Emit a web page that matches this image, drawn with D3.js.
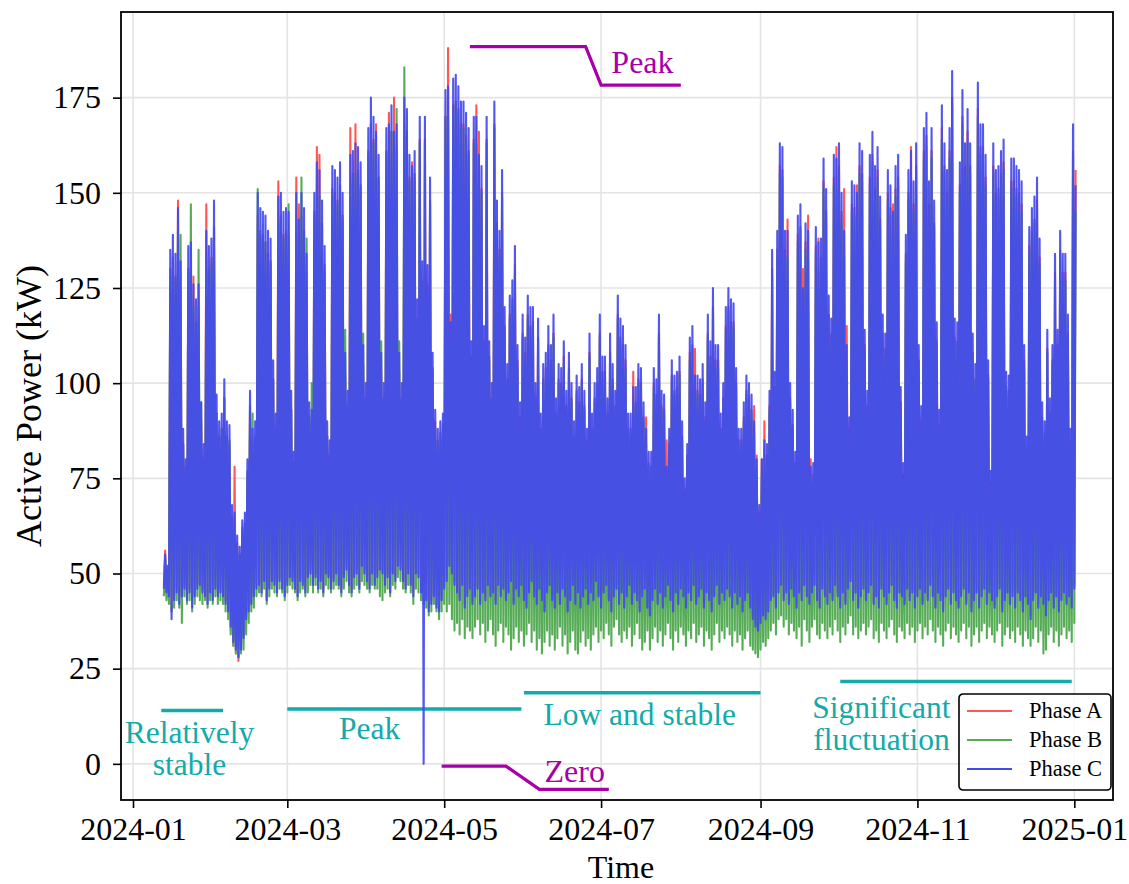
<!DOCTYPE html>
<html>
<head>
<meta charset="utf-8">
<script src="https://cdn.jsdelivr.net/npm/d3@7"></script>
<style>
  body { margin: 0; background: #fff; }
  text { font-family: "Liberation Serif", "Times New Roman", serif; }
</style>
</head>
<body>
<div id="chart"></div>
<script>
// one low (night) and one high (peak) reading per day, first day below
const startDate = "2024-01-13";

const xTickLabels = ["2024-01", "2024-03", "2024-05", "2024-07", "2024-09", "2024-11", "2025-01"];
const yTickValues = [0, 25, 50, 75, 100, 125, 150, 175];

const phaseNames = ["Phase A", "Phase B", "Phase C"];

// Phase A (red)
const phaseAHigh = [
  56,51,130,133,128,148,125,84,78,130,
  131,128,116,120,90,80,147,130,133,140,
  92,86,88,96,86,84,65,78,58,55,
  62,63,76,93,84,86,144,140,139,137,
  134,132,101,88,153,144,139,140,139,93,
  79,154,147,144,140,129,91,89,145,162,
  160,142,131,86,81,151,150,148,152,144,
  103,94,167,155,168,156,152,105,96,161,
  168,164,168,154,103,96,161,171,166,175,
  162,103,96,168,166,154,158,155,117,164,
  127,164,126,148,104,90,85,87,89,170,
  188,118,173,174,172,168,168,165,161,107,
  164,173,166,151,111,164,107,96,168,142,
  135,150,115,101,118,122,131,106,91,113,
  108,118,115,116,96,112,88,101,104,110,
  106,113,92,101,100,107,94,104,96,86,
  98,95,101,94,85,108,88,96,100,113,
  103,103,92,108,101,94,118,112,110,106,
  88,88,103,95,101,100,91,91,79,78,
  100,97,113,94,93,85,84,102,98,99,
  103,86,72,81,108,110,109,98,97,101,
  91,113,107,120,106,106,88,96,115,120,
  115,116,100,85,85,91,98,96,93,94,
  81,66,80,90,81,94,130,99,135,157,
  156,135,143,96,89,79,139,141,130,137,
  144,80,76,136,138,133,153,145,118,113,
  154,162,157,145,151,115,88,147,146,152,
  157,155,110,94,154,160,151,156,143,113,
  109,150,146,147,151,154,95,76,134,150,
  162,147,157,106,90,161,165,147,161,142,
  111,89,167,157,150,161,175,112,111,152,
  170,157,166,157,108,101,172,162,162,154,
  102,74,157,150,151,155,158,99,98,153,
  153,151,150,147,106,83,136,140,143,148,
  133,91,87,109,92,106,129,110,135,129,
  129,113,85,161,156
];
const phaseALow = [
  47,46,45,40,44,46,44,45,47,44,
  46,43,45,47,48,46,45,43,46,44,
  47,45,46,45,43,41,35,31,29,27,
  31,34,39,41,43,45,47,48,46,49,
  44,47,49,48,46,49,47,45,48,50,
  49,47,45,49,48,46,50,51,48,50,
  47,49,46,51,50,47,49,51,48,46,
  50,52,48,46,50,51,47,53,51,49,
  47,51,48,50,52,51,48,50,46,51,
  49,53,52,49,47,51,48,45,51,50,
  46,44,44,41,43,45,42,41,44,47,
  49,53,51,48,46,44,48,42,45,47,
  43,45,47,43,46,44,48,45,46,43,
  48,45,47,44,46,49,43,47,45,48,
  44,42,46,49,45,43,47,44,41,46,
  48,44,42,46,43,47,45,41,44,48,
  43,46,42,45,47,43,46,44,49,45,
  42,46,48,44,41,45,47,43,46,42,
  45,48,43,46,44,41,45,47,42,40,
  44,47,43,46,42,45,48,44,41,46,
  43,47,45,42,46,44,48,43,45,47,
  42,46,44,41,45,48,43,46,44,47,
  45,42,46,43,45,41,44,46,42,39,
  37,36,38,40,39,41,44,45,42,46,
  48,44,46,43,47,45,42,46,44,48,
  45,43,46,48,44,42,47,45,43,46,
  44,48,45,42,46,43,47,49,44,46,
  42,45,47,44,46,48,43,45,42,47,
  45,43,46,48,44,42,46,45,43,47,
  44,46,42,45,47,43,46,44,48,45,
  42,46,44,41,45,47,43,46,44,42,
  45,47,43,46,41,44,46,42,45,47,
  43,46,44,42,45,47,41,44,46,43,
  45,42,46,44,41,45,43,39,44,46,
  42,45,43,40,44,46,42,45,41,44,
  46,43,45,42,47
];

// Phase B (green)
const phaseBHigh = [
  54,50,128,132,127,140,139,84,77,129,
  147,120,115,135,95,80,133,129,131,141,
  92,86,88,96,85,85,64,63,57,55,
  61,63,77,94,92,86,151,139,138,137,
  133,131,101,87,142,143,138,139,147,93,
  78,143,136,154,139,138,91,100,143,151,
  149,141,129,86,81,150,149,147,151,143,
  114,94,152,154,155,155,151,113,95,160,
  168,163,158,153,111,95,160,161,166,159,
  172,111,95,183,165,153,150,154,116,163,
  126,163,124,147,103,88,84,86,88,170,
  170,110,172,173,171,167,167,164,160,106,
  163,163,153,150,110,163,106,95,167,141,
  133,149,114,100,117,121,129,104,90,112,
  106,117,114,114,95,111,87,100,102,109,
  104,112,91,100,99,105,93,103,95,86,
  97,94,100,93,84,107,87,95,99,112,
  101,102,91,107,100,93,117,111,109,104,
  87,87,94,94,100,99,90,84,78,78,
  99,96,112,93,92,74,84,101,97,98,
  102,85,71,80,106,109,97,97,96,100,
  90,112,105,119,104,104,87,95,114,119,
  116,115,99,84,84,90,97,95,92,86,
  76,65,76,81,80,93,128,98,133,155,
  154,133,133,95,88,78,137,140,119,135,
  133,74,75,134,130,131,151,143,117,111,
  152,151,155,142,133,105,86,145,144,143,
  155,153,108,93,152,158,149,154,141,112,
  107,148,144,138,149,152,94,75,132,148,
  153,145,155,104,89,159,162,145,159,141,
  110,88,164,155,148,159,173,111,110,150,
  168,155,163,155,107,100,170,160,160,152,
  101,73,155,148,149,153,156,98,97,151,
  151,149,148,145,104,82,134,139,142,146,
  131,90,86,108,91,105,127,108,133,127,
  127,112,84,160,145
];
const phaseBLow = [
  44,43,42,40,41,43,41,37,44,42,
  43,40,42,44,43,42,43,41,43,42,
  44,42,43,42,40,38,34,31,29,28,
  29,30,34,37,40,41,44,45,44,46,
  42,44,46,45,44,46,45,43,45,47,
  46,45,43,45,46,44,45,47,45,47,
  45,46,44,47,46,45,46,47,46,44,
  46,48,45,44,46,47,45,48,47,46,
  45,47,46,46,44,43,45,46,44,47,
  46,49,48,46,45,47,45,42,46,45,
  43,42,41,39,40,42,40,38,40,42,
  40,42,38,35,37,34,38,33,36,35,
  33,36,38,34,37,32,35,38,34,31,
  35,37,32,36,34,30,33,36,32,35,
  31,34,37,32,35,30,33,29,32,35,
  31,34,30,33,36,31,34,29,32,35,
  30,29,32,35,31,33,30,34,36,32,
  35,33,37,34,31,36,38,34,32,35,
  33,36,31,34,37,33,30,32,35,30,
  33,36,32,35,31,34,37,33,30,35,
  32,36,34,31,35,33,37,32,34,36,
  31,35,33,30,34,37,32,35,33,36,
  34,31,35,32,34,30,33,35,31,30,
  29,28,30,32,31,33,35,37,34,38,
  39,36,38,34,37,35,33,36,31,38,
  35,32,36,38,34,33,37,35,33,36,
  34,38,35,32,36,34,37,39,34,36,
  33,35,37,34,36,38,33,35,32,37,
  35,33,36,38,34,32,36,35,33,37,
  34,36,32,35,37,33,36,34,38,35,
  32,36,34,31,35,37,33,36,34,32,
  35,37,33,36,31,34,36,32,35,37,
  33,36,34,32,35,37,31,34,36,33,
  35,32,36,34,31,35,33,31,33,36,
  32,35,29,30,34,36,32,35,31,34,
  36,33,35,32,37
];

// Phase C (blue)
const phaseCHigh = [
  55,52,135,139,134,146,132,88,80,136,
  137,126,122,126,95,84,140,136,138,148,
  97,90,92,101,90,89,68,66,60,57,
  64,66,80,98,88,90,150,146,145,144,
  140,138,106,92,149,150,145,146,145,98,
  82,150,143,150,146,134,95,93,150,158,
  156,148,136,90,85,157,156,154,158,150,
  108,98,160,161,163,162,158,110,100,167,
  175,170,166,160,108,100,167,168,173,166,
  168,108,100,175,172,160,157,161,122,170,
  132,170,131,154,108,93,88,90,92,177,
  178,116,180,181,178,174,174,171,167,111,
  170,170,160,157,115,170,111,100,174,148,
  140,156,120,105,123,127,136,110,95,118,
  112,123,120,120,100,117,92,105,108,115,
  110,118,96,105,104,111,98,108,100,90,
  102,99,105,98,88,113,92,100,104,118,
  107,107,96,113,105,98,123,117,115,110,
  92,92,99,99,105,104,95,88,82,82,
  104,101,118,98,97,78,88,106,102,103,
  107,90,75,84,112,115,102,102,101,105,
  95,118,111,125,110,110,92,100,120,125,
  122,121,104,88,88,95,102,100,97,90,
  80,68,80,85,84,98,135,103,140,163,
  162,140,140,100,93,82,144,147,125,142,
  140,78,79,141,137,138,159,151,123,117,
  160,159,163,150,140,110,91,153,152,150,
  163,161,114,98,160,166,157,162,149,118,
  113,156,152,145,157,160,99,79,139,156,
  161,153,163,110,94,167,171,153,167,148,
  116,93,173,163,156,167,182,117,116,158,
  177,163,172,163,113,105,179,168,168,160,
  106,77,163,156,157,161,164,103,102,159,
  159,157,156,153,110,86,141,146,149,154,
  138,95,90,114,96,110,134,114,140,134,
  134,118,88,168,152
];
const phaseCLow = [
  46,45,44,38,43,45,42,44,46,43,
  45,41,44,46,47,45,44,42,45,43,
  46,44,45,44,42,40,36,32,30,28,
  30,33,38,40,42,44,46,47,45,48,
  43,46,48,47,45,48,46,44,47,49,
  48,46,44,48,47,45,49,50,47,49,
  46,48,45,50,49,46,48,50,47,45,
  49,51,47,45,49,50,46,52,50,48,
  46,50,47,49,51,50,47,49,45,50,
  48,52,51,48,46,50,47,44,50,49,
  45,0,43,40,42,44,41,40,43,46,
  48,52,50,47,45,43,47,41,44,46,
  42,44,46,42,45,43,47,44,45,42,
  47,44,46,43,45,48,42,46,44,47,
  43,41,45,48,44,42,46,43,40,45,
  47,43,41,45,42,46,44,40,43,47,
  42,45,41,44,46,42,45,43,48,44,
  41,45,47,43,40,44,46,42,45,41,
  44,47,42,45,43,40,44,46,41,39,
  43,46,42,45,41,44,47,43,40,45,
  42,46,44,41,45,43,47,42,44,46,
  41,45,43,40,44,47,42,45,43,46,
  44,41,45,42,44,40,43,45,41,38,
  36,35,37,39,38,40,43,44,41,45,
  47,43,45,42,46,44,41,45,43,47,
  44,42,45,47,43,41,46,44,42,45,
  43,47,44,41,45,42,46,48,43,45,
  41,44,46,43,45,47,42,44,41,46,
  44,42,45,47,43,41,45,44,42,46,
  43,45,41,44,46,42,45,43,47,44,
  41,45,43,40,44,46,42,45,43,41,
  44,46,42,45,40,43,45,41,44,46,
  42,45,43,41,44,46,40,43,45,42,
  44,41,45,43,40,44,42,38,43,45,
  41,44,42,39,43,45,41,44,40,43,
  45,42,44,41,46
];

// stage notes (cyan): bar from/to at a level, then the text
const stageText = [["Relatively", "stable"], ["Peak"], ["Low and stable"], ["Significant", "fluctuation"]];
const stageFrom = ["2024-01-12", "2024-03-01", "2024-06-01", "2024-10-02"];
const stageTo = ["2024-02-05", "2024-05-31", "2024-09-01", "2024-12-31"];
const stageLevel = [14, 14.4, 18.7, 21.6];
const stageTextAt = ["2024-01-23", "2024-04-02", "2024-07-16", "2024-10-18"];
const stageTextLevel = [5.5, 6.5, 10.2, 12];

// event notes (magenta): leader line and label
const eventText = ["Peak", "Zero"];
const eventLineDates = [["2024-05-11", "2024-06-25", "2024-07-01", "2024-08-01"],
                        ["2024-04-30", "2024-05-25", "2024-06-07", "2024-07-04"]];
const eventLineLevels = [[188.4, 188.4, 178.3, 178.3], [-0.6, -0.6, -6.7, -6.7]];
const eventTextAt = ["2024-07-05", "2024-06-09"];
const eventTextLevel = [181.5, -4.7];

var myApp = {};
myApp.w = 1129;
myApp.h = 884;
myApp.box = {left: 121, right: 1113, top: 12, bottom: 800};
myApp.colors = ["#ff5757", "#57ad57", "#4448ee"];
myApp.cyan = "#12aaaa";
myApp.magenta = "#a800a8";
myApp.font = '"Liberation Serif", "Times New Roman", serif';
myApp.parseDay = d3.utcParse("%Y-%m-%d");
myApp.parseMonth = d3.utcParse("%Y-%m");

myApp.makeScales = function () {
    myApp.xScale = d3.scaleUtc()
        .domain([new Date(Date.UTC(2023, 11, 27, 8)), new Date(Date.UTC(2025, 0, 16, 1))])
        .range([myApp.box.left, myApp.box.right]);
    myApp.yScale = d3.scaleLinear()
        .domain([-9.5, 197.5])
        .range([myApp.box.bottom, myApp.box.top]);
}

// night low at midnight, peak at noon
myApp.dayPoints = function (lo, hi) {
    let start = myApp.parseDay(startDate);
    let pts = [];
    lo.forEach(function (v, i) {
        let day = d3.utcDay.offset(start, i);
        pts.push({t: day, v: v});
        pts.push({t: d3.utcHour.offset(day, 12), v: hi[i]});
    });
    return pts;
}

myApp.drawGrid = function (svg) {
    let g = svg.append('g').attr('class', 'grid');
    let xTicks = xTickLabels.map(myApp.parseMonth);
    g.selectAll('line.gx').data(xTicks).enter().append('line')
        .attr('class', 'gx')
        .attr('x1', d => myApp.xScale(d)).attr('x2', d => myApp.xScale(d))
        .attr('y1', myApp.box.top).attr('y2', myApp.box.bottom)
        .attr('stroke', '#e4e4e4').attr('stroke-width', 1.6);
    g.selectAll('line.gy').data(yTickValues).enter().append('line')
        .attr('class', 'gy')
        .attr('x1', myApp.box.left).attr('x2', myApp.box.right)
        .attr('y1', d => myApp.yScale(d)).attr('y2', d => myApp.yScale(d))
        .attr('stroke', '#e4e4e4').attr('stroke-width', 1.6);
}

myApp.drawAxes = function (svg) {
    let xAxis = d3.axisBottom(myApp.xScale)
        .tickValues(xTickLabels.map(myApp.parseMonth))
        .tickFormat(d3.utcFormat('%Y-%m'))
        .tickSize(8).tickPadding(9);
    let yAxis = d3.axisLeft(myApp.yScale)
        .tickValues(yTickValues)
        .tickSize(8).tickPadding(12);

    let gx = svg.append('g')
        .attr('transform', 'translate(0,' + myApp.box.bottom + ')')
        .call(xAxis);
    let gy = svg.append('g')
        .attr('transform', 'translate(' + myApp.box.left + ',0)')
        .call(yAxis);
    [gx, gy].forEach(function (g) {
        g.select('.domain').remove();
        g.selectAll('.tick line').attr('stroke', '#000').attr('stroke-width', 1.6);
        g.selectAll('.tick text')
            .attr('fill', '#000')
            .style('font-family', myApp.font)
            .style('font-size', '32px');
    });

    svg.append('text')
        .attr('x', 621).attr('y', 878)
        .attr('text-anchor', 'middle')
        .style('font-size', '32px')
        .text('Time');
    svg.append('text')
        .attr('transform', 'translate(41,' + ((myApp.box.top + myApp.box.bottom) / 2) + ') rotate(-90)')
        .attr('text-anchor', 'middle')
        .style('font-size', '36px')
        .text('Active Power (kW)');
}

myApp.drawNotes = function (svg) {
    let x = myApp.xScale, y = myApp.yScale;
    let g = svg.append('g').attr('class', 'notes');

    stageText.forEach(function (lines, i) {
        g.append('line')
            .attr('x1', x(myApp.parseDay(stageFrom[i]))).attr('x2', x(myApp.parseDay(stageTo[i])))
            .attr('y1', y(stageLevel[i])).attr('y2', y(stageLevel[i]))
            .attr('stroke', myApp.cyan).attr('stroke-width', 3.5);
        lines.forEach(function (s, k) {
            g.append('text')
                .attr('x', x(myApp.parseDay(stageTextAt[i])))
                .attr('y', y(stageTextLevel[i]) + k * 32)
                .attr('text-anchor', 'middle')
                .attr('fill', myApp.cyan)
                .style('font-size', '31.5px')
                .text(s);
        });
    });

    eventText.forEach(function (s, i) {
        let pts = eventLineDates[i].map(function (d, k) {
            return [x(myApp.parseDay(d)), y(eventLineLevels[i][k])];
        });
        g.append('path')
            .attr('d', d3.line()(pts))
            .attr('fill', 'none')
            .attr('stroke', myApp.magenta).attr('stroke-width', 3.2);
        g.append('text')
            .attr('x', x(myApp.parseDay(eventTextAt[i])))
            .attr('y', y(eventTextLevel[i]))
            .attr('fill', myApp.magenta)
            .style('font-size', '32px')
            .text(s);
    });
}

myApp.drawSeries = function (svg) {
    let line = d3.line()
        .x(d => myApp.xScale(d.t))
        .y(d => myApp.yScale(d.v));
    let series = [
        myApp.dayPoints(phaseALow, phaseAHigh),
        myApp.dayPoints(phaseBLow, phaseBHigh),
        myApp.dayPoints(phaseCLow, phaseCHigh)
    ];
    svg.append('g').attr('class', 'series')
        .selectAll('path')
        .data(series)
        .enter().append('path')
        .attr('d', line)
        .attr('fill', 'none')
        .attr('stroke', (d, i) => myApp.colors[i])
        .attr('stroke-opacity', (d, i) => i === 2 ? 0.92 : 1)
        .attr('stroke-width', 2.1)
        .attr('stroke-linejoin', 'round');
}

myApp.drawFrame = function (svg) {
    svg.append('rect')
        .attr('x', myApp.box.left).attr('y', myApp.box.top)
        .attr('width', myApp.box.right - myApp.box.left)
        .attr('height', myApp.box.bottom - myApp.box.top)
        .attr('fill', 'none')
        .attr('stroke', '#000').attr('stroke-width', 1.8);
}

myApp.drawLegend = function (svg) {
    let lg = svg.append('g').attr('transform', 'translate(959,694)');
    lg.append('rect')
        .attr('width', 152).attr('height', 96)
        .attr('rx', 4)
        .attr('fill', '#fff').attr('fill-opacity', 0.85)
        .attr('stroke', '#000').attr('stroke-width', 1.6);
    let item = lg.selectAll('g.item').data(phaseNames).enter().append('g')
        .attr('class', 'item')
        .attr('transform', (d, i) => 'translate(0,' + (17 + i * 29) + ')');
    item.append('line')
        .attr('x1', 8).attr('x2', 53)
        .attr('stroke', (d, i) => myApp.colors[i])
        .attr('stroke-width', 2.2);
    item.append('text')
        .attr('x', 70).attr('dy', '0.33em')
        .style('font-size', '22.5px')
        .text(d => d);
}

myApp.run = function () {
    let svg = d3.select('#chart').append('svg')
        .attr('width', myApp.w)
        .attr('height', myApp.h);
    myApp.makeScales();
    myApp.drawGrid(svg);
    myApp.drawNotes(svg);
    myApp.drawSeries(svg);
    myApp.drawFrame(svg);
    myApp.drawAxes(svg);
    myApp.drawLegend(svg);
}

window.onload = myApp.run;
</script>
</body>
</html>
